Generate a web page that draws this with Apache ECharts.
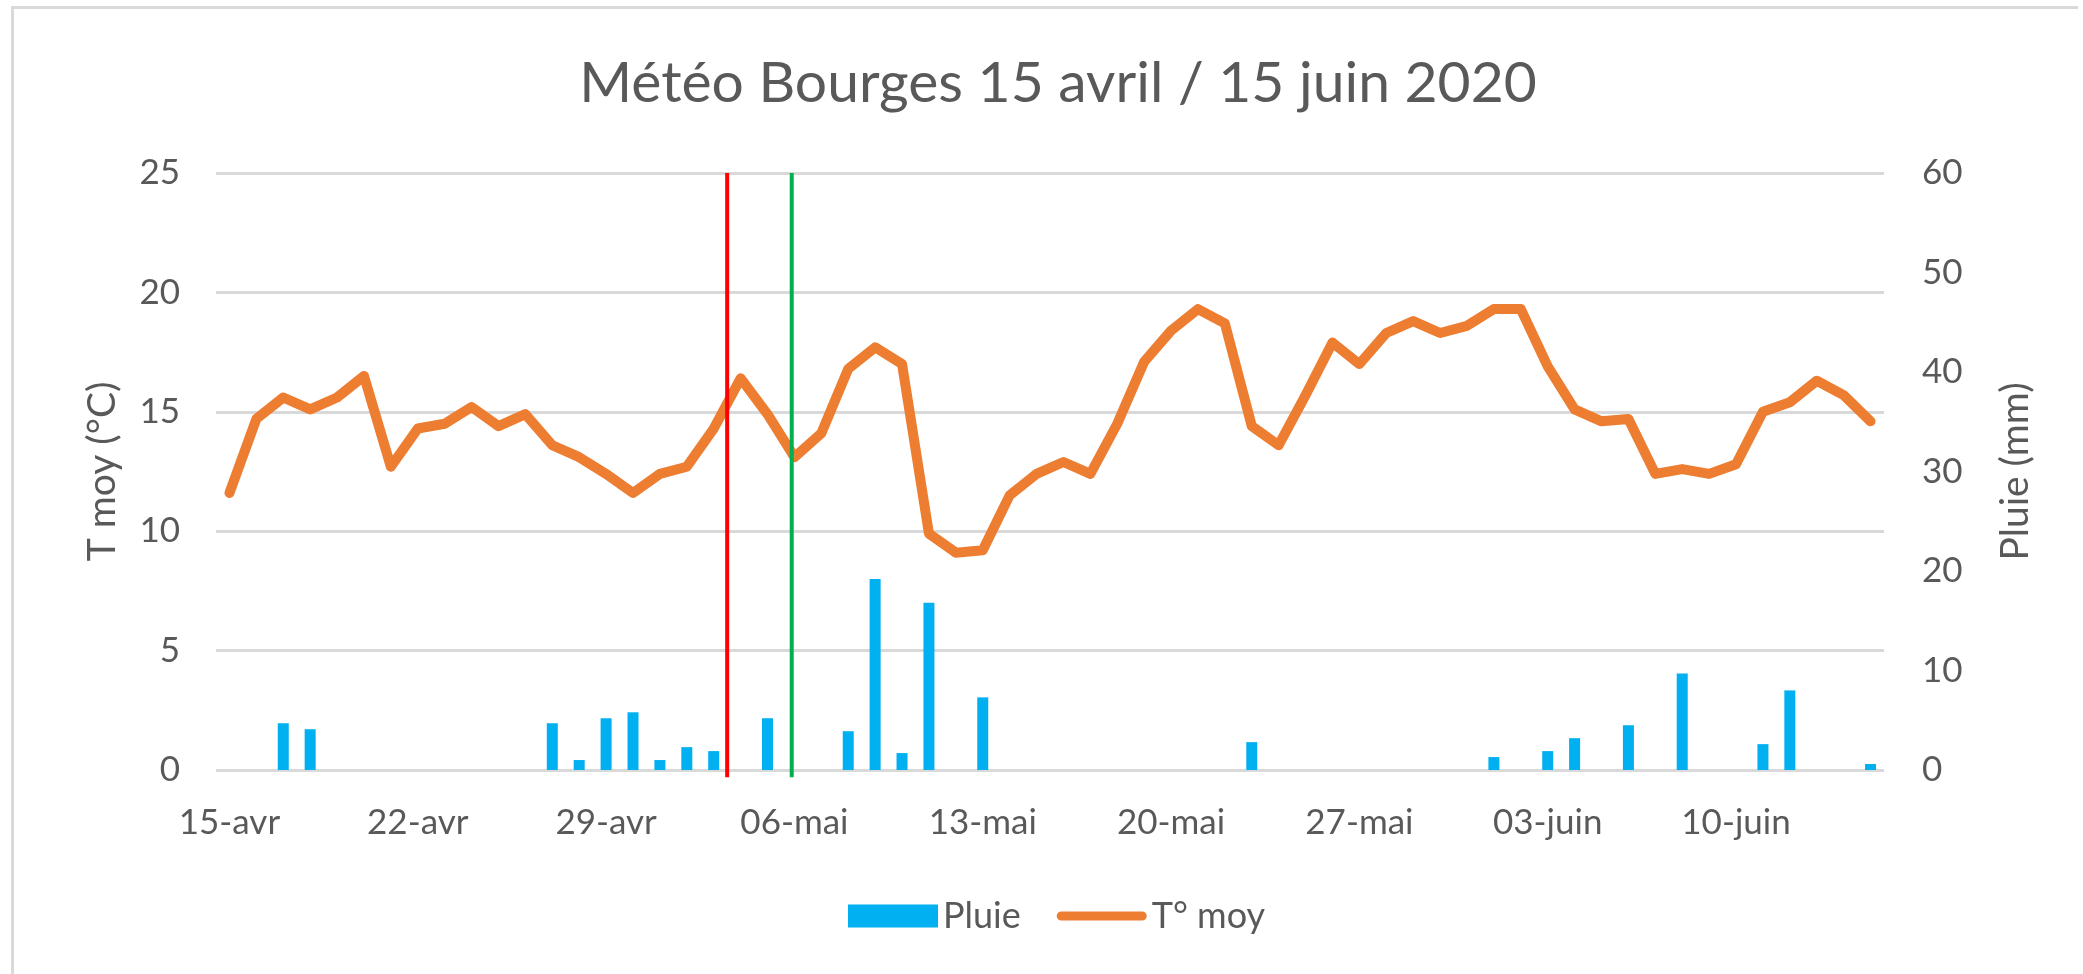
<!DOCTYPE html>
<html>
<head>
<meta charset="utf-8">
<title>Météo Bourges</title>
<script src="https://cdn.jsdelivr.net/npm/echarts@6.0.0/dist/echarts.min.js"></script>
<style>
  html, body { margin: 0; padding: 0; background: #fff; }
  #chart { position: absolute; left: 0; top: 0; width: 2083px; height: 974px; }
  #frame {
    position: absolute; left: 11px; top: 6px; width: 2064px; height: 990px;
    border-left: 3px solid #d9d9d9; border-top: 3px solid #d9d9d9;
    pointer-events: none;
  }
</style>
</head>
<body>
<div id="chart"></div>
<div id="frame"></div>
<script>
// jours du 15 avril au 15 juin 2020
const days = [
  "15-avr", "16-avr", "17-avr", "18-avr", "19-avr", "20-avr", "21-avr", "22-avr",
  "23-avr", "24-avr", "25-avr", "26-avr", "27-avr", "28-avr", "29-avr", "30-avr",
  "01-mai", "02-mai", "03-mai", "04-mai", "05-mai", "06-mai", "07-mai", "08-mai",
  "09-mai", "10-mai", "11-mai", "12-mai", "13-mai", "14-mai", "15-mai", "16-mai",
  "17-mai", "18-mai", "19-mai", "20-mai", "21-mai", "22-mai", "23-mai", "24-mai",
  "25-mai", "26-mai", "27-mai", "28-mai", "29-mai", "30-mai", "31-mai",
  "01-juin", "02-juin", "03-juin", "04-juin", "05-juin", "06-juin", "07-juin",
  "08-juin", "09-juin", "10-juin", "11-juin", "12-juin", "13-juin", "14-juin", "15-juin"
];

// pluie (mm), axe de droite
const pluie = [
  0, 0, 4.7, 4.1, 0, 0, 0, 0, 0, 0, 0, 0, 4.7, 1.0, 5.2, 5.8,
  1.0, 2.3, 1.9, 0, 5.2, 0, 0, 3.9, 19.2, 1.7, 16.8, 0, 7.3, 0, 0, 0,
  0, 0, 0, 0, 0, 0, 2.8, 0, 0, 0, 0, 0, 0, 0, 0,
  1.3, 0, 1.9, 3.2, 0, 4.5, 0, 9.7, 0, 0, 2.6, 8.0, 0, 0, 0.6
];

// température moyenne (°C), axe de gauche
const tMoy = [
  11.6, 14.7, 15.6, 15.1, 15.6, 16.5, 12.7, 14.3, 14.5, 15.2, 14.4, 14.9, 13.6, 13.1, 12.4, 11.6,
  12.4, 12.7, 14.3, 16.4, 14.9, 13.1, 14.1, 16.8, 17.7, 17.0, 9.9, 9.1, 9.2, 11.5, 12.4, 12.9,
  12.4, 14.5, 17.1, 18.4, 19.3, 18.7, 14.4, 13.6, 15.7, 17.9, 17.0, 18.3, 18.8, 18.3, 18.6,
  19.3, 19.3, 16.9, 15.1, 14.6, 14.7, 12.4, 12.6, 12.4, 12.8, 15.0, 15.4, 16.3, 15.7, 14.6
];

// traits verticaux (position en jours depuis le 15 avril)
const redDay = 18.5;
const greenDay = 20.9;
const markTop = 25;
const markBottom = -0.3;

const grey = "#595959";
const font = "Lato";

let myChart = echarts.init(document.getElementById("chart"));

let option = {
  backgroundColor: "#ffffff",
  animation: false,
  textStyle: { fontFamily: font },
  title: {
    text: "Météo Bourges 15 avril / 15 juin 2020",
    left: 1053,
    textAlign: "center",
    top: 50,
    textStyle: { color: grey, fontSize: 57, fontWeight: "normal", fontFamily: font }
  },
  legend: {
    data: [
      { name: "Pluie", icon: "rect" },
      { name: "T° moy", icon: "path://M4,0L86,0A4,4 0 0 1 86,9L4,9A4,4 0 0 1 4,0Z" }
    ],
    left: 843,
    top: 893,
    itemWidth: 90,
    itemHeight: 23,
    itemGap: 36,
    textStyle: { color: grey, fontSize: 36, fontFamily: font }
  },
  grid: {
    left: 216,
    right: 199,
    top: 173,
    bottom: 204
  },
  xAxis: [
    {
      type: "category",
      data: days,
      boundaryGap: true,
      axisLine: { show: false },
      axisTick: { show: false },
      axisLabel: {
        interval: 6,
        color: grey,
        fontSize: 35,
        fontFamily: font,
        margin: 35
      }
    },
    {
      // axe caché pour placer les traits entre deux jours
      type: "value",
      show: false,
      min: -0.5,
      max: 61.5
    }
  ],
  yAxis: [
    {
      type: "value",
      min: 0,
      max: 25,
      interval: 5,
      name: "T moy (°C)",
      nameLocation: "middle",
      nameRotate: 90,
      nameGap: 94,
      nameTextStyle: { color: grey, fontSize: 39, fontFamily: font },
      axisLine: { show: false },
      axisTick: { show: false },
      axisLabel: { color: grey, fontSize: 35, fontFamily: font, margin: 36 },
      splitLine: { show: true, lineStyle: { color: "#d9d9d9", width: 3 } }
    },
    {
      type: "value",
      min: 0,
      max: 60,
      interval: 10,
      name: "Pluie (mm)",
      nameLocation: "middle",
      nameRotate: 90,
      nameGap: 112,
      nameTextStyle: { color: grey, fontSize: 39, fontFamily: font },
      axisLine: { show: false },
      axisTick: { show: false },
      axisLabel: { color: grey, fontSize: 35, fontFamily: font, margin: 38 },
      splitLine: { show: false }
    }
  ],
  series: [
    {
      name: "Pluie",
      type: "bar",
      yAxisIndex: 1,
      data: pluie,
      barWidth: 11,
      itemStyle: { color: "#00b0f0" }
    },
    {
      name: "T° moy",
      type: "line",
      yAxisIndex: 0,
      data: tMoy,
      symbol: "none",
      lineStyle: { color: "#ed7d31", width: 10, join: "round", cap: "round" },
      itemStyle: { color: "#ed7d31" }
    },
    {
      name: "rouge",
      type: "line",
      xAxisIndex: 1,
      yAxisIndex: 0,
      clip: false,
      silent: true,
      symbol: "none",
      data: [[redDay, markTop], [redDay, markBottom]],
      lineStyle: { color: "#ff0000", width: 4 }
    },
    {
      name: "vert",
      type: "line",
      xAxisIndex: 1,
      yAxisIndex: 0,
      clip: false,
      silent: true,
      symbol: "none",
      data: [[greenDay, markTop], [greenDay, markBottom]],
      lineStyle: { color: "#00b050", width: 4 }
    }
  ]
};

myChart.setOption(option);
</script>
</body>
</html>
